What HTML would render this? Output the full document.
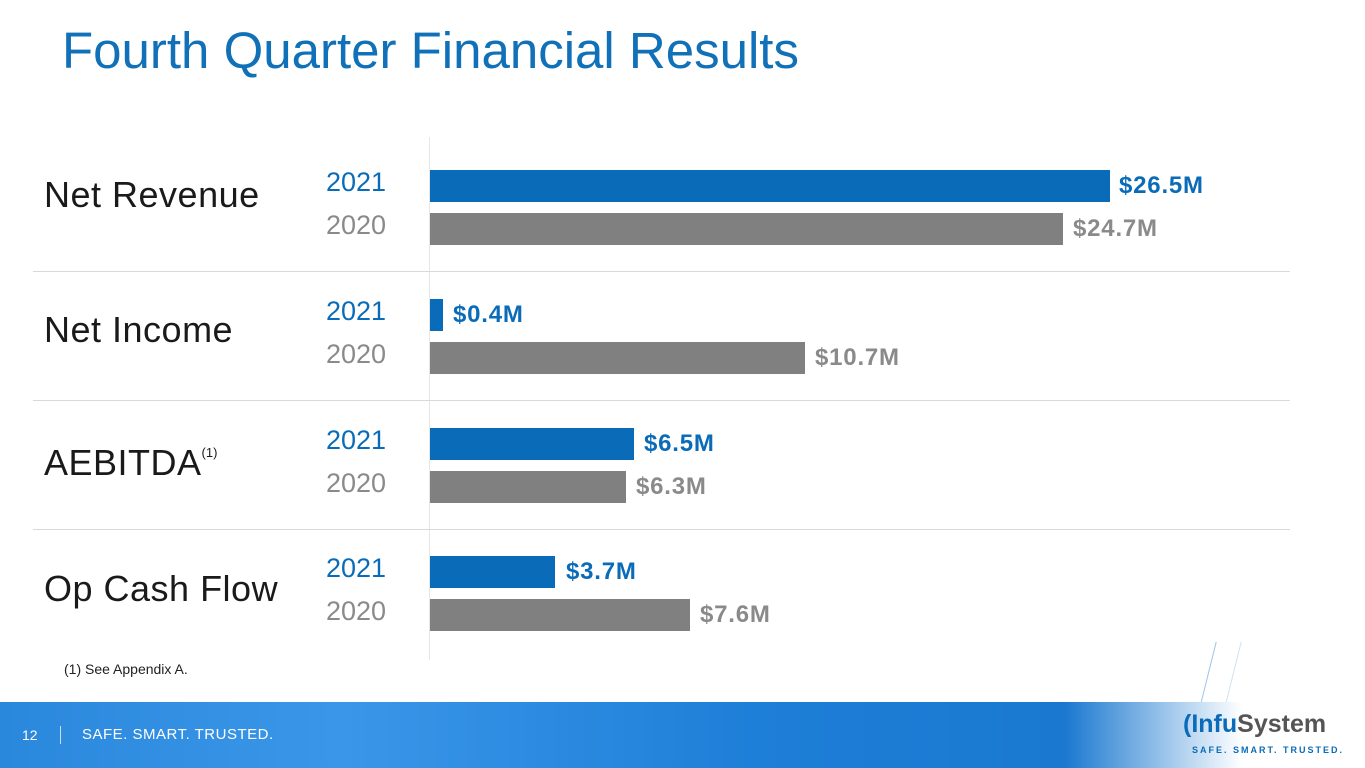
<!DOCTYPE html>
<html><head><meta charset="utf-8"><style>
body{margin:0;width:1365px;height:768px;position:relative;overflow:hidden;background:#fff;font-family:"Liberation Sans",sans-serif}
div,span{position:absolute}
.t{left:62px;top:21px;font-size:51px;color:#1070b8;white-space:nowrap}
.lab{left:44px;font-size:36px;color:#1a1a1a;white-space:nowrap;letter-spacing:0.5px}
.yr{left:326px;font-size:27px;white-space:nowrap}
.b{background:#0a6cb8}.g{background:#808080}
.bar{left:430px;height:32px}
.v{font-size:24px;font-weight:bold;white-space:nowrap;letter-spacing:0.8px}
.sep{left:33px;width:1257px;height:1px;background:#d9d9d9}
</style></head><body>
<div class="t">Fourth Quarter Financial Results</div>
<div style="left:429px;top:137px;width:1px;height:523px;background:#e6e6e6"></div>
<div class="sep" style="top:271px"></div>
<div class="sep" style="top:400px"></div>
<div class="sep" style="top:529px"></div>

<div class="lab" style="top:174px">Net Revenue</div>
<div class="lab" style="top:309px">Net Income</div>
<div class="lab" style="top:442px">AEBITDA<span style="font-size:13px;position:relative;top:-18px;letter-spacing:0">(1)</span></div>
<div class="lab" style="top:568px">Op Cash Flow</div>

<div class="yr" style="top:167px;color:#0a6cb8">2021</div><div class="yr" style="top:210px;color:#8a8a8a">2020</div>
<div class="yr" style="top:296px;color:#0a6cb8">2021</div><div class="yr" style="top:339px;color:#8a8a8a">2020</div>
<div class="yr" style="top:425px;color:#0a6cb8">2021</div><div class="yr" style="top:468px;color:#8a8a8a">2020</div>
<div class="yr" style="top:553px;color:#0a6cb8">2021</div><div class="yr" style="top:596px;color:#8a8a8a">2020</div>

<div class="bar b" style="top:170px;width:680px"></div><div class="v" style="left:1119px;top:172px;color:#0a6cb8">$26.5M</div>
<div class="bar g" style="top:213px;width:633px"></div><div class="v" style="left:1073px;top:215px;color:#8a8a8a">$24.7M</div>
<div class="bar b" style="top:299px;width:13px"></div><div class="v" style="left:453px;top:301px;color:#0a6cb8">$0.4M</div>
<div class="bar g" style="top:342px;width:375px"></div><div class="v" style="left:815px;top:344px;color:#8a8a8a">$10.7M</div>
<div class="bar b" style="top:428px;width:204px"></div><div class="v" style="left:644px;top:430px;color:#0a6cb8">$6.5M</div>
<div class="bar g" style="top:471px;width:196px"></div><div class="v" style="left:636px;top:473px;color:#8a8a8a">$6.3M</div>
<div class="bar b" style="top:556px;width:125px"></div><div class="v" style="left:566px;top:558px;color:#0a6cb8">$3.7M</div>
<div class="bar g" style="top:599px;width:260px"></div><div class="v" style="left:700px;top:601px;color:#8a8a8a">$7.6M</div>

<div style="left:64px;top:661px;font-size:14px;color:#222">(1) See Appendix A.</div>

<div style="left:1200px;top:640px;width:1px;height:130px;background:#9cc4e8;transform:rotate(14deg)"></div>
<div style="left:1225px;top:640px;width:1px;height:130px;background:#cfe2f3;transform:rotate(14deg)"></div>
<div style="left:0;top:702px;width:1365px;height:66px;background:linear-gradient(90deg,#2a88dc 0%,#3a96e8 25%,#1e7fd8 55%,#1a78d0 78%,#ffffff 91%)"></div>
<div style="left:22px;top:727px;font-size:14px;color:#fff">12</div>
<div style="left:60px;top:726px;width:1px;height:18px;background:#cde"></div>
<div style="left:82px;top:726px;font-size:15px;color:#fff;letter-spacing:0.5px">SAFE. SMART. TRUSTED.</div>
<div style="left:1183px;top:710px;font-size:25px;font-weight:bold;color:#555;white-space:nowrap"><span style="position:relative;color:#0a6cb8">(Infu</span><span style="position:relative">System</span></div>
<div style="left:1192px;top:745px;font-size:9px;font-weight:bold;color:#0a6cb8;letter-spacing:2px;white-space:nowrap">SAFE. SMART. TRUSTED.</div>
</body></html>
